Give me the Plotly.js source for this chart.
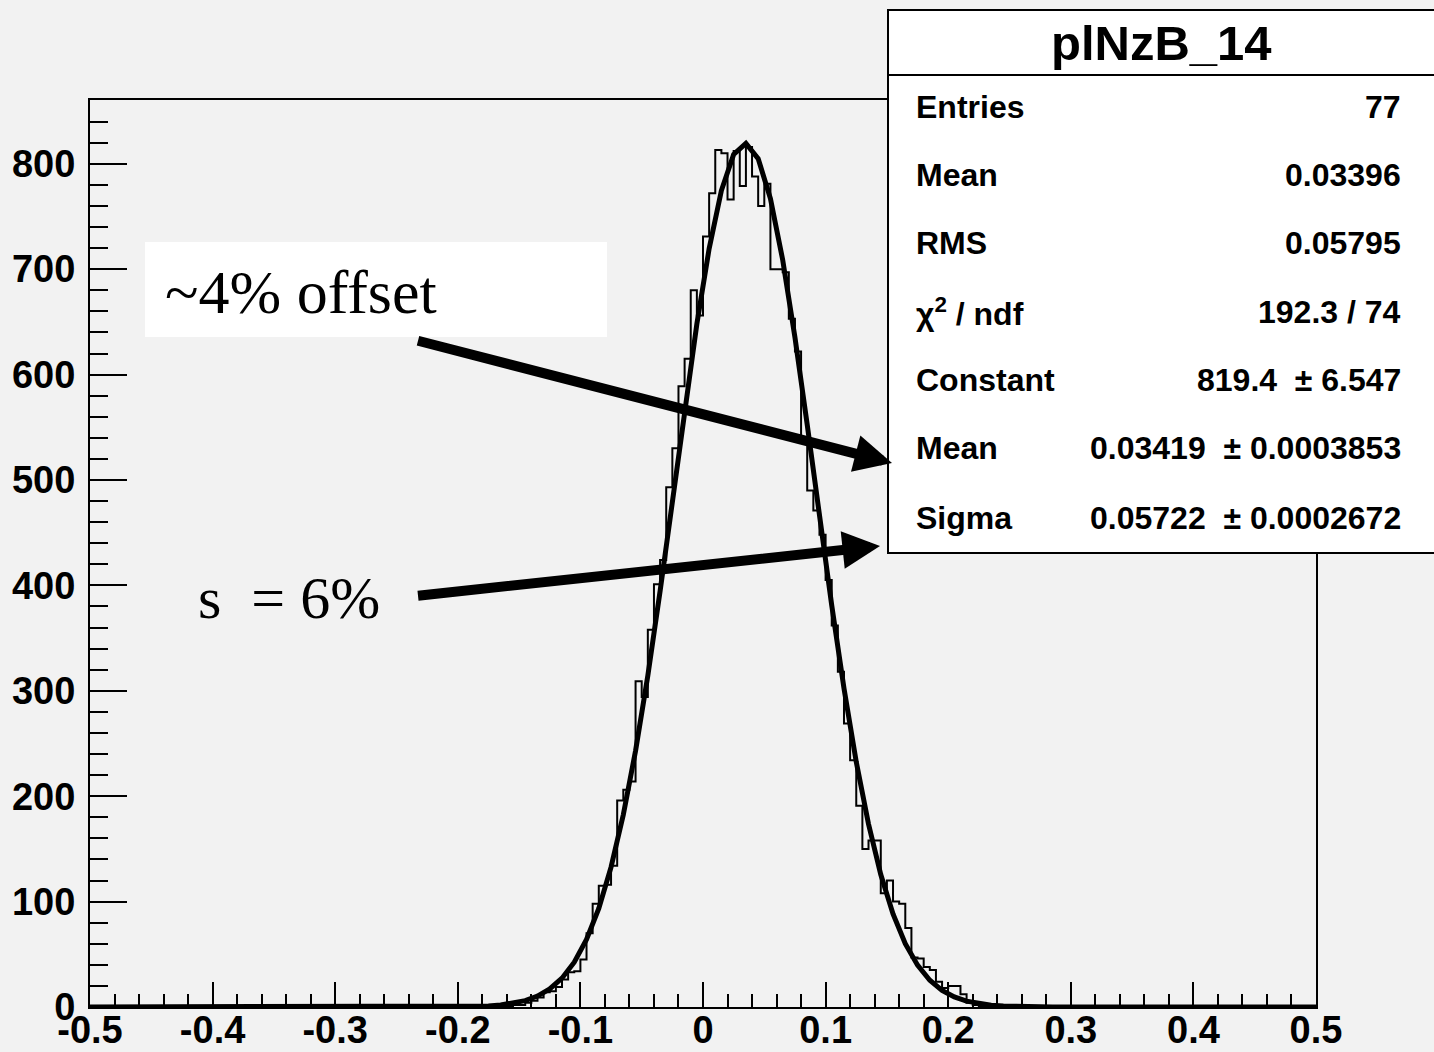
<!DOCTYPE html>
<html>
<head>
<meta charset="utf-8">
<script src="https://cdn.plot.ly/plotly-3.0.1.min.js"></script>
<style>
  html, body { margin: 0; padding: 0; background: #f2f2f2; }
  #chart { width: 1434px; height: 1052px; }
</style>
</head>
<body>
<div id="chart"></div>
<script>
// ---------------- data ----------------
const histName = "plNzB_14";
const binWidth = 0.005;
const binLeft = [
  -0.170, -0.165, -0.160, -0.155, -0.150, -0.145, -0.140, -0.135, -0.130, -0.125,
  -0.120, -0.115, -0.110, -0.105, -0.100, -0.095, -0.090, -0.085, -0.080, -0.075,
  -0.070, -0.065, -0.060, -0.055, -0.050, -0.045, -0.040, -0.035, -0.030, -0.025,
  -0.020, -0.015, -0.010, -0.005, 0.000, 0.005, 0.010, 0.015, 0.020, 0.025,
  0.030, 0.035, 0.040, 0.045, 0.050, 0.055, 0.060, 0.065, 0.070, 0.075,
  0.080, 0.085, 0.090, 0.095, 0.100, 0.105, 0.110, 0.115, 0.120, 0.125,
  0.130, 0.135, 0.140, 0.145, 0.150, 0.155, 0.160, 0.165, 0.170, 0.175,
  0.180, 0.185, 0.190, 0.195, 0.200, 0.205, 0.210, 0.215, 0.220, 0.225,
  0.230
];
const counts = [
  1, 1, 1, 2, 2, 4, 6, 9, 14, 15,
  19, 26, 33, 34, 45, 70, 98, 115, 116, 134,
  196, 206, 214, 309, 294, 358, 401, 424, 493, 530,
  589, 615, 680, 656, 731, 772, 813, 810, 766, 812,
  779, 816, 788, 760, 781, 700, 700, 697, 653, 622,
  540, 490, 471, 448, 405, 362, 318, 269, 234, 191,
  150, 158, 158, 108, 120, 100, 98, 75, 47, 46,
  38, 35, 24, 18, 20, 20, 12, 4, 2, 1,
  1
];
const axisRangeX = [-0.5, 0.5];
const axisRangeY = [0, 860.5];
const xTickVals = [-0.5, -0.4, -0.3, -0.2, -0.1, 0, 0.1, 0.2, 0.3, 0.4, 0.5];
const xTickText = ["-0.5", "-0.4", "-0.3", "-0.2", "-0.1", "0", "0.1", "0.2", "0.3", "0.4", "0.5"];
const yTickVals = [0, 100, 200, 300, 400, 500, 600, 700, 800];
const yTickText = ["0", "100", "200", "300", "400", "500", "600", "700", "800"];

// fit parameters (gaussian) as shown in the stats box
const fitConstant = 819.4;
const fitMean = 0.03419;
const fitSigma = 0.05722;

const statLabels = ["Entries", "Mean", "RMS", "χ<sup>2</sup> / ndf", "Constant", "Mean", "Sigma"];
const statValues = ["77", "0.03396", "0.05795", "192.3 / 74", "819.4  ± 6.547", "0.03419  ± 0.0003853", "0.05722  ± 0.0002672"];

const noteOffset = "~4% offset";
const noteSigma = "s  = 6%";

// ---------------- build traces ----------------
const histX = [axisRangeX[0]];
const histY = [0];
for (let i = 0; i < binLeft.length; i++) { histX.push(binLeft[i]); histY.push(counts[i]); }
histX.push(binLeft[binLeft.length - 1] + binWidth); histY.push(0);
histX.push(axisRangeX[1]); histY.push(0);

const fitX = [axisRangeX[0]];
for (let k = 0; k < 100; k++) fitX.push(axisRangeX[0] + 0.005 + 0.01 * k);
fitX.push(axisRangeX[1]);
const fitY = fitX.map(x => fitConstant * Math.exp(-0.5 * Math.pow((x - fitMean) / fitSigma, 2)));

const traces = [
  { x: histX, y: histY, type: 'scatter', mode: 'lines', line: { shape: 'hv', color: '#000', width: 2 }, hoverinfo: 'skip', cliponaxis: false },
  { x: fitX, y: fitY, type: 'scatter', mode: 'lines', line: { color: '#000', width: 5 }, hoverinfo: 'skip', cliponaxis: false }
];

// ---------------- layout helpers (pixel -> paper) ----------------
const L = 90, R = 1316, T = 100, B = 1007;
const px = v => (v - L) / (R - L);
const py = v => (B - v) / (B - T);

const boldFont = { family: 'Liberation Sans, Arial, sans-serif', color: '#000', weight: 'bold' };
const shapes = [
  // white box behind the "~4% offset" note
  { type: 'rect', xref: 'paper', yref: 'paper', x0: px(145), x1: px(607), y0: py(337), y1: py(242),
    fillcolor: '#ffffff', line: { width: 0 }, layer: 'above' },
  // stats box
  { type: 'rect', xref: 'paper', yref: 'paper', x0: px(888), x1: px(1445), y0: py(553), y1: py(10),
    fillcolor: '#ffffff', line: { color: '#000', width: 2 }, layer: 'above' },
  { type: 'line', xref: 'paper', yref: 'paper', x0: px(888), x1: px(1445), y0: py(75), y1: py(75),
    line: { color: '#000', width: 2 }, layer: 'above' }
];

const annotations = [];
annotations.push({ xref: 'paper', yref: 'paper', x: px(1161), y: py(43), text: histName, showarrow: false,
  xanchor: 'center', yanchor: 'middle', font: Object.assign({}, boldFont, { size: 49 }) });
const rowY = [107, 175, 243, 312, 380, 448, 518];
for (let i = 0; i < statLabels.length; i++) {
  annotations.push({ xref: 'paper', yref: 'paper', x: px(914), y: py(rowY[i]), text: statLabels[i], showarrow: false,
    xanchor: 'left', yanchor: 'middle', font: Object.assign({}, boldFont, { size: 32 }) });
  annotations.push({ xref: 'paper', yref: 'paper', x: px(1403), y: py(rowY[i]), text: statValues[i], showarrow: false,
    xanchor: 'right', yanchor: 'middle', font: Object.assign({}, boldFont, { size: 32 }) });
}
const serif = { family: 'Liberation Serif, Times New Roman, serif', color: '#000', size: 62 };
annotations.push({ xref: 'paper', yref: 'paper', x: px(163), y: py(292), text: noteOffset, showarrow: false,
  xanchor: 'left', yanchor: 'middle', font: serif });
annotations.push({ xref: 'paper', yref: 'paper', x: px(196), y: py(598), text: noteSigma, showarrow: false,
  xanchor: 'left', yanchor: 'middle', font: Object.assign({}, serif, { size: 60 }) });
// arrows
annotations.push({ xref: 'paper', yref: 'paper', x: px(892), y: py(463), ax: 415 - 892, ay: 340 - 463,
  text: ' ', showarrow: true, arrowhead: 2, arrowsize: 0.75, arrowwidth: 10, arrowcolor: '#000', standoff: 0 });
annotations.push({ xref: 'paper', yref: 'paper', x: px(880), y: py(546), ax: 415 - 880, ay: 596 - 546,
  text: ' ', showarrow: true, arrowhead: 2, arrowsize: 0.75, arrowwidth: 10, arrowcolor: '#000', standoff: 0 });

const tickFont = { family: 'Liberation Sans, Arial, sans-serif', color: '#000', weight: 'bold', size: 38 };

const layout = {
  width: 1434, height: 1052,
  margin: { l: L, r: 1434 - R, t: T, b: 1052 - B, pad: 0 },
  paper_bgcolor: '#f2f2f2', plot_bgcolor: '#f2f2f2',
  showlegend: false,
  xaxis: {
    range: axisRangeX, tickmode: 'array', tickvals: xTickVals, ticktext: xTickText,
    ticks: 'inside', ticklen: 25, tickwidth: 2, tickcolor: '#000',
    minor: { tickmode: 'linear', tick0: -0.5, dtick: 0.02, ticks: 'inside', ticklen: 13, tickwidth: 2, tickcolor: '#000', showgrid: false },
    showgrid: false, zeroline: false, showline: true, mirror: true, linecolor: '#000', linewidth: 2,
    tickfont: tickFont, ticklabelstandoff: -12, fixedrange: true
  },
  yaxis: {
    range: axisRangeY, tickmode: 'array', tickvals: yTickVals, ticktext: yTickText,
    ticks: 'inside', ticklen: 37, tickwidth: 2, tickcolor: '#000',
    minor: { tickmode: 'linear', tick0: 0, dtick: 20, ticks: 'inside', ticklen: 18, tickwidth: 2, tickcolor: '#000', showgrid: false },
    showgrid: false, zeroline: false, showline: true, mirror: true, linecolor: '#000', linewidth: 2,
    tickfont: tickFont, ticklabelstandoff: 5, fixedrange: true
  },
  shapes: shapes,
  annotations: annotations
};

Plotly.newPlot('chart', traces, layout, { displayModeBar: false, staticPlot: true });
</script>
</body>
</html>
